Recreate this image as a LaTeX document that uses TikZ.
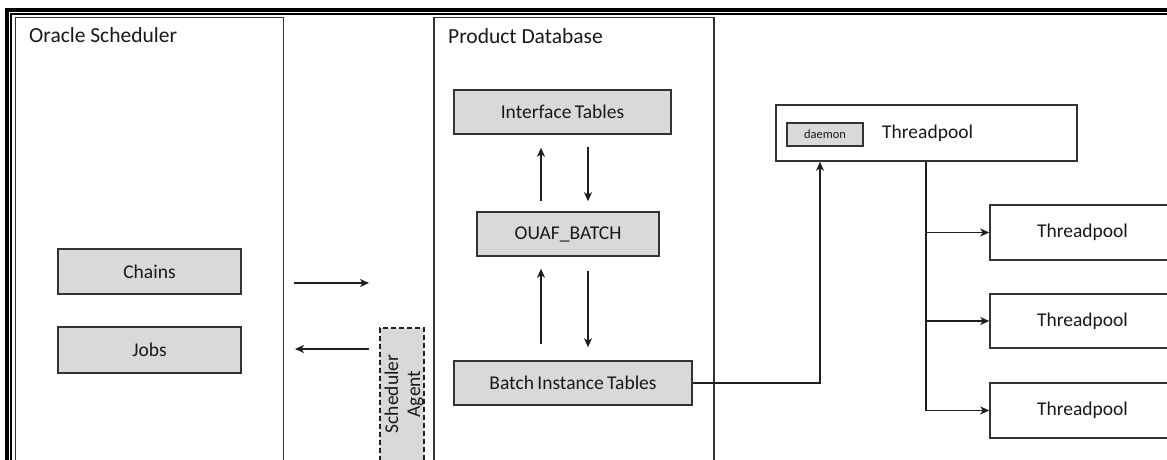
\documentclass[tikz,border=0pt]{standalone}
\usepackage{fontspec}
\setmainfont{Carlito}
\usetikzlibrary{arrows.meta}
\definecolor{boxgrey}{HTML}{D9D9D9}
\definecolor{edge}{HTML}{333333}
\begin{document}
\begin{tikzpicture}[x=1pt,y=-1pt,
  container/.style={draw=edge,line width=1.6pt,anchor=north west,inner sep=0pt},
  greybox/.style={draw=edge,fill=boxgrey,line width=1.5pt,inner sep=0pt,font=\fontsize{19.5}{22}\selectfont,text=black!90},
  whitebox/.style={draw=edge,fill=white,line width=1.5pt,inner sep=0pt,font=\fontsize{19.5}{22}\selectfont,text=black!90},
  title/.style={anchor=base west,inner sep=0pt,font=\fontsize{21.5}{24}\selectfont,text=black!90},
  arr/.style={-{Stealth[length=9pt,width=8pt,inset=2.5pt]},line width=1.5pt,draw=black!88},
  plain/.style={line width=1.5pt,draw=black!88}]
\useasboundingbox (0,0) rectangle (1167,460);
\clip (0,0) rectangle (1167,460);
\fill[white] (0,0) rectangle (1167,460);
% frame
\draw[line width=4pt,black] (7,9.8) rectangle (1200,520);
\draw[line width=1.5pt,black] (11,14) rectangle (1200,520);
% containers
\node[container,minimum width=268pt,minimum height=470pt] (oracle) at (14.5,16.8) {};
\node[container,minimum width=280pt,minimum height=470pt] (proddb) at (433,16.8) {};
\node[title] (oracletitle) at (29,43) {Oracle Scheduler};
\node[title] (prodtitle) at (448,44) {Product Database};
% oracle scheduler content
\node[greybox,minimum width=183pt,minimum height=45pt] (chains) at (149.5,271.5) {Chains};
\node[greybox,minimum width=183pt,minimum height=46pt] (jobs) at (149.5,350) {Jobs};
% product database content
\node[greybox,minimum width=217pt,minimum height=44pt] (iface) at (562.5,112) {Interface\kern-1pt\ Tables};
\node[greybox,minimum width=182pt,minimum height=44pt] (ouaf) at (568,234) {OUAF\_BATCH};
\node[greybox,minimum width=238pt,minimum height=44pt] (batch) at (573,383) {Batch\kern-1pt\ Instance\kern-1pt\ Tables};
% scheduler agent
\node[draw=black!88,fill=boxgrey,line width=1.5pt,dash pattern=on 5pt off 3pt,anchor=north west,minimum width=44pt,minimum height=160pt,inner sep=0pt] (agent) at (379,327) {};
\node[rotate=90,align=center,inner sep=0pt,font=\fontsize{19.5}{22}\selectfont,text=black!90] (agenttext) at (404,394) {Scheduler\\Agent};
% threadpools
\node[whitebox,minimum width=301pt,minimum height=56pt] (tpmain) at (926.5,133) {};
\node[greybox,minimum width=76pt,minimum height=23pt,font=\fontsize{12.5}{14}\selectfont] (daemon) at (825,134.5) {daemon};
\node[anchor=west,inner sep=0pt,font=\fontsize{19.5}{22}\selectfont,text=black!90] (tpmaintext) at (882,133) {Threadpool};
\node[whitebox,minimum width=185pt,minimum height=55pt] (tp1) at (1082.5,232.5) {Threadpool};
\node[whitebox,minimum width=185pt,minimum height=54pt] (tp2) at (1082.5,321) {Threadpool};
\node[whitebox,minimum width=185pt,minimum height=55pt] (tp3) at (1082.5,410.5) {Threadpool};
% helper coordinates
\coordinate (xL) at (541,0);
\coordinate (xR) at (588,0);
\coordinate (inA) at (294,283);
\coordinate (inB) at (369,283);
\coordinate (outA) at (369,349);
\coordinate (outB) at (295,349);
\coordinate (xB) at (820,0);
\coordinate (xT) at (926,0);
% arrows in product database
\draw[arr,shorten <=10pt,shorten >=13pt] (ouaf.north -| xL) -- (iface.south -| xL);
\draw[arr,shorten <=12pt,shorten >=10pt] (iface.south -| xR) -- (ouaf.north -| xR);
\draw[arr,shorten <=16pt,shorten >=12pt] (batch.north -| xL) -- (ouaf.south -| xL);
\draw[arr,shorten <=14pt,shorten >=13pt] (ouaf.south -| xR) -- (batch.north -| xR);
% scheduler arrows
\draw[arr] (inA) -- (inB);
\draw[arr] (outA) -- (outB);
% batch to threadpool
\draw[arr] (batch.east) -| (tpmain.south -| xB);
% threadpool tree
\draw[plain] (tpmain.south -| xT) -- (xT |- tp3.west);
\draw[arr] (xT |- tp1.west) -- (tp1.west);
\draw[arr] (xT |- tp2.west) -- (tp2.west);
\draw[arr] (xT |- tp3.west) -- (tp3.west);
\end{tikzpicture}
\end{document}
